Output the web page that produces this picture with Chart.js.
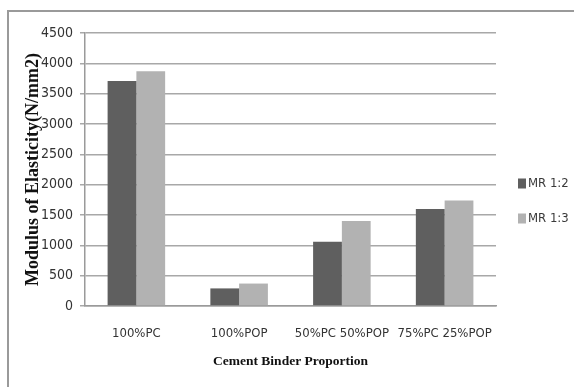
<!DOCTYPE html>
<html>
<head>
<meta charset="utf-8">
<script src="https://cdn.jsdelivr.net/npm/chart.js@4.4.1/dist/chart.umd.min.js"></script>
<style>
  html, body { margin: 0; padding: 0; background: #ffffff; overflow: hidden; }
  canvas { display: block; }
</style>
</head>
<body>
<canvas id="c" width="574" height="387"></canvas>
<script>
// Binder mixes tested
const categories = ['100%PC', '100%POP', '50%PC 50%POP', '75%PC 25%POP'];
// Modulus of elasticity (N/mm2) per mortar ratio
const mr12 = [3710, 290, 1060, 1600];
const mr13 = [3870, 370, 1400, 1740];
const seriesNames = ['MR 1:2', 'MR 1:3'];
const yTicks = [0, 500, 1000, 1500, 2000, 2500, 3000, 3500, 4000, 4500];

const narrow = "'DejaVu Sans Condensed', 'Liberation Sans Narrow', 'Liberation Sans', sans-serif";
const xTickFont = { family: narrow, size: 13 };
const yTickFont = { family: narrow, size: 14 };
const legendFont = { family: narrow, size: 13 };
const xTitleFont = { family: "'Liberation Serif', 'Times New Roman', serif", size: 13.5, weight: 'bold' };
const yTitleFont = { family: "'Liberation Serif', 'Times New Roman', serif", size: 18, weight: 'bold' };

// Outer frame: top and left edges of the chart box
const frame = {
  id: 'frame',
  beforeDraw(chart) {
    const ctx = chart.ctx;
    ctx.save();
    ctx.strokeStyle = '#9a9a9a';
    ctx.lineWidth = 2;
    ctx.beginPath();
    ctx.moveTo(8, chart.height);
    ctx.lineTo(8, 11);
    ctx.lineTo(chart.width, 11);
    ctx.stroke();
    ctx.restore();
  }
};

// Side legend: small square swatch followed closely by the series name
const sideLegend = {
  id: 'sideLegend',
  afterDraw(chart) {
    const ctx = chart.ctx;
    const area = chart.chartArea;
    const x = area.right + 22;
    const rowGap = 35;
    const y0 = (area.top + area.bottom) / 2 + 31.5 - rowGap / 2;
    ctx.save();
    ctx.font = `${legendFont.size}px ${legendFont.family}`;
    ctx.textBaseline = 'middle';
    ctx.textAlign = 'left';
    chart.data.datasets.forEach((ds, i) => {
      const y = y0 + i * rowGap;
      ctx.fillStyle = ds.backgroundColor;
      ctx.fillRect(x, y - 5, 8, 10);
      ctx.fillStyle = '#3a3a3a';
      ctx.fillText(ds.label, x + 10, y);
    });
    ctx.restore();
  }
};

new Chart(document.getElementById('c'), {
  type: 'bar',
  data: {
    labels: categories,
    datasets: [
      { label: seriesNames[0], data: mr12, backgroundColor: '#5f5f5f', borderWidth: 0 },
      { label: seriesNames[1], data: mr13, backgroundColor: '#b2b2b2', borderWidth: 0 }
    ]
  },
  options: {
    responsive: false,
    animation: false,
    layout: { padding: { left: 10, top: 33, right: 78, bottom: 10 } },
    datasets: { bar: { categoryPercentage: 0.56, barPercentage: 1.0 } },
    plugins: {
      legend: { display: false },
      tooltip: { enabled: false }
    },
    scales: {
      x: {
        grid: { display: false, drawTicks: false },
        border: { display: true, color: '#9a9a9a', width: 1.5 },
        ticks: { font: xTickFont, color: '#333333', padding: 20, autoSkip: false, maxRotation: 0 },
        title: { display: true, text: 'Cement Binder Proportion', font: xTitleFont, color: '#111111', padding: { top: 4, bottom: 7 } },
        afterFit(scale) { scale.height = 71; }
      },
      y: {
        min: 0, max: 4500,
        afterBuildTicks(scale) { scale.ticks = yTicks.map(v => ({ value: v })); },
        grid: { color: '#a8a8a8', lineWidth: 1.5, tickLength: 5, drawTicks: true },
        border: { display: true, color: '#9a9a9a', width: 1.5 },
        ticks: { font: yTickFont, color: '#333333', padding: 7, callback: v => String(v) },
        title: { display: true, text: 'Modulus of Elasticity(N/mm2)', font: yTitleFont, color: '#111111', padding: { top: 13, bottom: 0 } },
        afterFit(scale) { scale.width = 75; }
      }
    }
  },
  plugins: [frame, sideLegend]
});
</script>
</body>
</html>
